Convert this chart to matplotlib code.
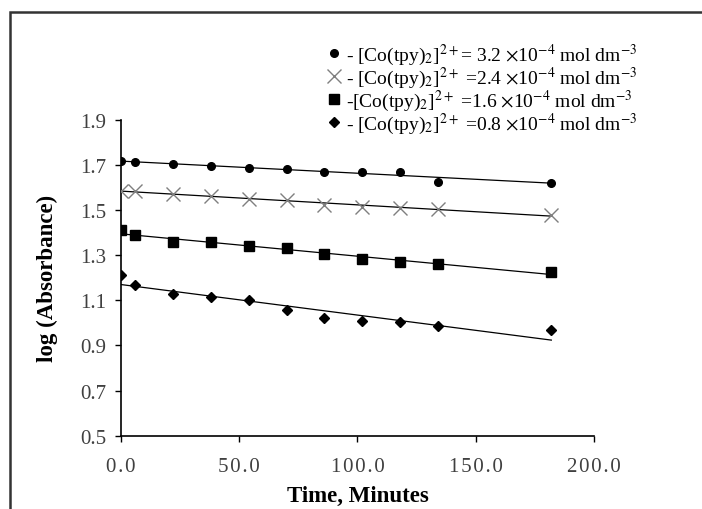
import numpy as np
import matplotlib
matplotlib.use("Agg")
import matplotlib.pyplot as plt
from matplotlib.patches import Rectangle

plt.rcParams["font.family"] = ["Liberation Serif", "DejaVu Serif"]
plt.rcParams["mathtext.fontset"] = "stix"

# time in minutes
time_min = [0, 6, 22, 38, 54, 70, 86, 102, 118, 134, 182]

# log(absorbance) for each [Co(tpy)2]2+ concentration
conc_32 = [1.715, 1.713, 1.703, 1.696, 1.688, 1.680, 1.669, 1.669, 1.669, 1.626, 1.619]
conc_24 = [1.584, 1.584, 1.570, 1.560, 1.550, 1.546, 1.524, 1.515, 1.511, 1.506, 1.476]
conc_16 = [1.411, 1.388, 1.360, 1.358, 1.340, 1.333, 1.303, 1.284, 1.269, 1.262, 1.226]
conc_08 = [1.214, 1.167, 1.130, 1.115, 1.103, 1.057, 1.022, 1.007, 1.002, 0.985, 0.967]

xticks = [0, 50, 100, 150, 200]
yticks = [0.5, 0.7, 0.9, 1.1, 1.3, 1.5, 1.7, 1.9]

labels = [
    r"- [Co(tpy)$_2$]$^{2+}$= 3.2 $\times$10$^{-4}$ mol dm$^{-3}$",
    r"- [Co(tpy)$_2$]$^{2+}$ =2.4 $\times$10$^{-4}$ mol dm$^{-3}$",
    r"-[Co(tpy)$_2$]$^{2+}$ =1.6 $\times$10$^{-4}$ mol dm$^{-3}$",
    r"- [Co(tpy)$_2$]$^{2+}$ =0.8 $\times$10$^{-4}$ mol dm$^{-3}$",
]

styles = [
    dict(marker="o", ms=5.5, color="black", mec="black"),
    dict(marker="x", ms=10, color="#7f7f7f", mec="#7f7f7f", mew=1.0),
    dict(marker="s", ms=6.5, color="black", mec="black"),
    dict(marker="D", ms=5.5, color="black", mec="black"),
]

fig = plt.figure(figsize=(7.02, 5.10), dpi=100)
ax = fig.add_axes([0.1724, 0.1437, 0.846 - 0.1724, 0.7633 - 0.1437])

# outer chart border (runs off the right and bottom edge)
fig.patches.append(Rectangle((10 / 702, -0.1), 1.2, 1.1 - 13 / 510,
                             transform=fig.transFigure, fill=False,
                             edgecolor="#333333", lw=1.8))

t = np.array(time_min)
for ys, st, lab in zip([conc_32, conc_24, conc_16, conc_08], styles, labels):
    ys = np.array(ys)
    k, b = np.polyfit(t, ys, 1)
    ax.plot([t[0], t[-1]], [b + k * t[0], b + k * t[-1]], color="black", lw=0.9, zorder=2)
    ax.plot(t, ys, ls="none", zorder=3, label=lab, **st)

ax.set_xlim(0, 200)
ax.set_ylim(0.5, 1.9)
ax.set_xticks(xticks)
ax.set_yticks(yticks)
ax.set_xticklabels(["\u200a".join(f"{v:.1f}") for v in xticks])
ax.set_yticklabels([f"{v:.1f}" for v in yticks])
ax.tick_params(axis="both", direction="out", length=4.5, width=1.0,
               labelsize=15, labelcolor="#404040", color="black")
ax.tick_params(axis="x", pad=11)
ax.tick_params(axis="y", pad=6)

for side in ["top", "right"]:
    ax.spines[side].set_visible(False)
for side in ["left", "bottom"]:
    ax.spines[side].set_linewidth(1.2)

ax.set_xlabel("Time, Minutes", fontsize=16.5, fontweight="bold", labelpad=6)
ax.set_ylabel("log (Absorbance)", fontsize=16.5, fontweight="bold", labelpad=16)

fig.legend(loc="upper left", bbox_to_anchor=(316 / 702, 1 - 33 / 510),
           frameon=False, fontsize=14, handlelength=0.8, handletextpad=0.25,
           labelspacing=-0.12, borderpad=0)

fig.savefig("out.png", dpi=100)
